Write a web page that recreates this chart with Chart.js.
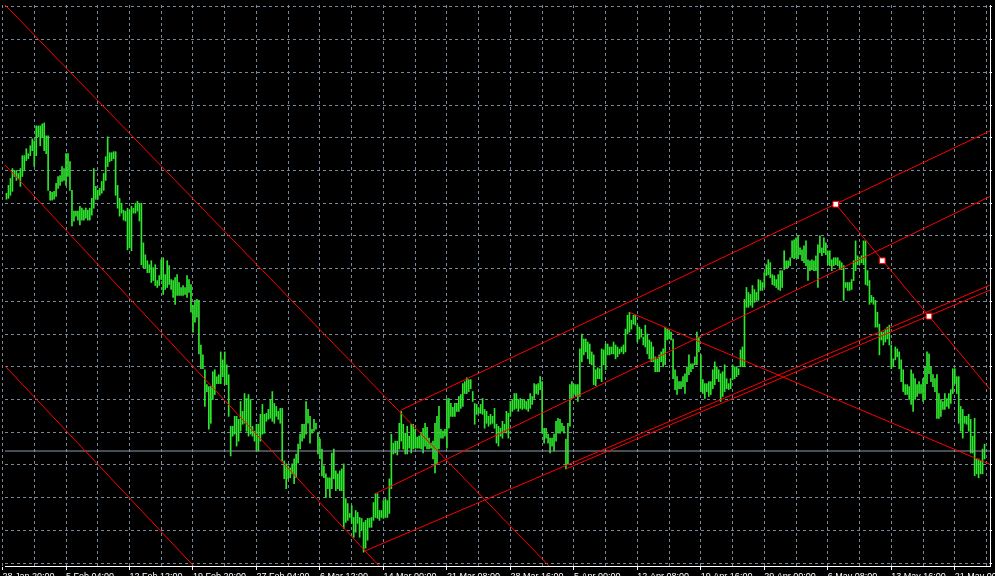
<!DOCTYPE html>
<html>
<head>
<meta charset="utf-8">
<script src="https://cdn.jsdelivr.net/npm/chart.js@4.4.1/dist/chart.umd.min.js"></script>
<style>
  html, body { margin: 0; padding: 0; background: #000; overflow: hidden; }
  canvas { display: block; }
</style>
</head>
<body>
<canvas id="chart" width="995" height="576"></canvas>
<script>
// H4 bars, high / low of each bar (index 0 = first bar at the left edge)
const barHigh = [
  3810,3818,3825,3835,3833,3833,3830,3835,3848,3848,3855,3850,3858,3865,3863,3878,3878,3878,3880,3881,
  3868,3868,3812,3811,3812,3820,3827,3828,3837,3835,3850,3850,3842,3813,3792,3792,3792,3797,3795,3793,
  3795,3793,3795,3805,3835,3817,3813,3815,3822,3830,3847,3867,3851,3851,3852,3852,3818,3805,3800,3793,
  3792,3795,3793,3797,3795,3800,3802,3800,3800,3760,3748,3742,3738,3742,3735,3738,3722,3727,3743,3745,
  3728,3742,3737,3723,3722,3725,3728,3720,3715,3717,3715,3727,3723,3718,3697,3702,3703,3702,3657,3647,
  3632,3617,3615,3615,3630,3632,3625,3627,3650,3642,3650,3637,3627,3575,3575,3585,3585,3582,3600,3590,
  3608,3603,3607,3602,3575,3570,3577,3577,3587,3597,3587,3588,3592,3602,3610,3598,3595,3590,3593,3593,
  3540,3537,3535,3533,3537,3542,3547,3557,3567,3577,3577,3600,3592,3585,3572,3582,3578,3568,3562,3552,
  3535,3527,3523,3523,3548,3552,3530,3527,3530,3532,3537,3502,3497,3487,3495,3483,3490,3488,3483,3482,
  3478,3480,3482,3482,3483,3498,3507,3507,3490,3490,3500,3502,3500,3522,3567,3558,3560,3560,3578,3590,
  3577,3568,3575,3565,3577,3577,3572,3564,3565,3568,3573,3578,3574,3563,3558,3560,3578,3585,3595,3572,
  3570,3572,3603,3603,3598,3594,3598,3598,3605,3607,3618,3620,3624,3622,3622,3610,3598,3597,3593,3597,
  3603,3592,3590,3585,3587,3585,3593,3577,3575,3573,3580,3577,3590,3588,3600,3602,3608,3608,3602,3603,
  3602,3602,3600,3602,3608,3605,3618,3617,3618,3625,3620,3573,3573,3567,3563,3563,3567,3580,3583,3582,
  3578,3575,3562,3578,3617,3620,3617,3617,3617,3653,3668,3663,3663,3660,3658,3650,3647,3632,3634,3633,
  3653,3652,3658,3658,3655,3655,3660,3657,3655,3653,3655,3657,3673,3687,3690,3682,3687,3687,3677,3675,
  3673,3665,3677,3668,3662,3660,3655,3645,3643,3647,3650,3653,3675,3673,3672,3670,3663,3632,3625,3620,
  3620,3625,3628,3635,3647,3638,3638,3645,3670,3665,3647,3622,3618,3618,3620,3620,3632,3640,3635,3632,
  3628,3630,3637,3623,3618,3623,3637,3635,3635,3633,3652,3655,3703,3715,3710,3708,3717,3713,3710,3723,
  3722,3720,3730,3738,3743,3740,3728,3727,3723,3728,3732,3732,3752,3742,3742,3745,3762,3763,3765,3767,
  3755,3753,3757,3762,3743,3742,3743,3742,3747,3758,3767,3755,3765,3760,3752,3752,3743,3745,3745,3745,
  3742,3740,3737,3720,3720,3720,3723,3742,3762,3747,3745,3747,3762,3762,3732,3722,3707,3705,3702,3690,
  3678,3670,3670,3673,3675,3677,3657,3643,3655,3653,3650,3642,3632,3617,3617,3615,3632,3628,3623,3617,
  3620,3617,3623,3635,3650,3648,3635,3627,3623,3627,3608,3602,3600,3608,3603,3608,3612,3633,3633,3625,
  3625,3595,3592,3585,3585,3587,3582,3565,3583,3542,3542,3540,3552,3557
];
const barLow = [
  3804,3805,3808,3812,3827,3823,3825,3817,3827,3833,3843,3845,3848,3853,3837,3848,3867,3858,3867,3853,
  3850,3813,3803,3803,3804,3807,3815,3818,3822,3823,3818,3827,3813,3777,3782,3787,3783,3778,3783,3783,
  3785,3783,3783,3788,3795,3804,3804,3808,3810,3813,3823,3837,3842,3843,3845,3808,3795,3787,3790,3783,
  3782,3753,3755,3752,3790,3790,3792,3782,3738,3735,3735,3730,3730,3720,3722,3717,3715,3717,3723,3708,
  3713,3715,3718,3713,3705,3698,3707,3707,3707,3707,3708,3705,3710,3690,3670,3680,3685,3648,3633,3633,
  3595,3610,3572,3578,3602,3607,3618,3618,3618,3625,3617,3617,3585,3545,3565,3567,3555,3560,3570,3577,
  3578,3570,3565,3567,3565,3560,3550,3550,3560,3567,3568,3580,3582,3583,3580,3578,3585,3582,3578,3540,
  3522,3512,3522,3523,3527,3517,3523,3538,3552,3560,3563,3567,3578,3558,3568,3570,3572,3547,3542,3525,
  3523,3503,3512,3503,3512,3522,3510,3512,3510,3510,3472,3478,3480,3483,3477,3463,3468,3477,3463,3470,
  3448,3452,3460,3473,3473,3480,3483,3482,3480,3483,3482,3483,3483,3487,3512,3547,3548,3546,3552,3560,
  3552,3547,3547,3553,3548,3552,3553,3553,3553,3552,3548,3555,3552,3552,3553,3542,3528,3537,3552,3563,
  3563,3565,3553,3573,3585,3585,3585,3590,3590,3593,3595,3608,3608,3610,3613,3600,3577,3587,3588,3588,
  3587,3573,3578,3575,3577,3578,3573,3558,3555,3565,3563,3570,3568,3563,3585,3590,3592,3593,3590,3593,
  3592,3593,3592,3590,3593,3597,3603,3608,3607,3612,3568,3558,3563,3558,3548,3555,3550,3560,3568,3568,
  3570,3568,3532,3537,3575,3603,3607,3605,3600,3605,3640,3647,3650,3643,3638,3637,3617,3616,3623,3623,
  3620,3637,3632,3647,3647,3648,3648,3643,3645,3648,3650,3648,3650,3668,3670,3673,3678,3677,3660,3663,
  3665,3657,3655,3648,3643,3640,3640,3630,3630,3630,3640,3635,3637,3662,3663,3662,3623,3612,3607,3613,
  3613,3615,3608,3620,3627,3630,3633,3637,3637,3650,3610,3608,3603,3610,3605,3607,3613,3617,3623,3620,
  3600,3605,3610,3613,3612,3613,3622,3623,3625,3627,3635,3635,3635,3695,3695,3697,3695,3700,3702,3702,
  3712,3712,3715,3727,3728,3725,3718,3717,3715,3713,3712,3715,3733,3735,3735,3737,3745,3744,3745,3744,
  3748,3742,3740,3737,3722,3732,3733,3732,3732,3715,3750,3747,3750,3748,3738,3737,3732,3737,3738,3737,
  3733,3733,3702,3715,3712,3712,3713,3722,3732,3738,3738,3740,3738,3718,3717,3698,3700,3698,3675,3675,
  3647,3662,3657,3660,3663,3657,3633,3635,3642,3645,3633,3620,3610,3607,3607,3602,3597,3590,3602,3605,
  3608,3608,3600,3602,3618,3628,3620,3615,3610,3583,3583,3585,3592,3592,3595,3593,3598,3608,3618,3608,
  3578,3570,3563,3578,3577,3570,3548,3548,3525,3527,3523,3527,3527,3542
];

// time axis labels (bar index -> text)
const tickBars = [-2, 30, 62, 94, 126, 158, 190, 222, 254, 286, 318, 350, 382, 414, 446, 478];
const tickLabels = ['28 Jan 20:00', '5 Feb 04:00', '12 Feb 12:00', '19 Feb 20:00', '27 Feb 04:00',
  '6 Mar 12:00', '14 Mar 00:00', '21 Mar 08:00', '28 Mar 16:00', '5 Apr 00:00', '12 Apr 08:00',
  '19 Apr 16:00', '29 Apr 00:00', '6 May 08:00', '13 May 16:00', '21 May 00:00'];

// price grid levels
const gridLevels = [3998, 3965, 3932, 3899, 3866, 3833, 3800, 3767, 3734, 3701, 3668, 3635, 3602, 3569, 3536, 3503, 3470, 3437];

// drawn objects: trend / channel lines [bar, price]
const lineFrom = [[-6, 3850], [-6, 4011], [-6, 3647], [198.5, 3591], [186, 3507], [180.5, 3449], [282, 3532], [418, 3799], [314, 3690]];
const lineTo   = [[200, 3408], [290, 3400], [100, 3422], [500, 3877], [500, 3811], [500, 3721], [500, 3716], [500, 3602], [500, 3533]];

// selected trend line handles
const markerBars = [418, 441.5, 465];
const markerPrices = [3799, 3742, 3686];

// current price line
const bidPrice = 3550;

const RED = '#ff0000';
const GRID = '#778899';

const datasets = [];

datasets.push({
  type: 'bar',
  data: barHigh.map((h, i) => ({ x: i, y: [barLow[i], h] })),
  backgroundColor: '#2ee62e',
  borderWidth: 0,
  barThickness: 1,
  grouped: false,
  order: 5
});

datasets.push({
  type: 'line',
  data: [{ x: -10, y: bidPrice }, { x: 510, y: bidPrice }],
  borderColor: '#8f9bab',
  borderWidth: 1,
  pointRadius: 0,
  order: 4
});

lineFrom.forEach((p, k) => {
  datasets.push({
    type: 'line',
    data: [{ x: p[0], y: p[1] }, { x: lineTo[k][0], y: lineTo[k][1] }],
    borderColor: RED,
    borderWidth: 1,
    pointRadius: 0,
    order: 2
  });
});

datasets.push({
  type: 'line',
  data: markerBars.map((b, k) => ({ x: b, y: markerPrices[k] })),
  showLine: false,
  pointStyle: 'rect',
  pointRadius: 4,
  pointBackgroundColor: '#ffffff',
  pointBorderColor: RED,
  pointBorderWidth: 1,
  order: 0
});

// keep the plot area at the window edges (labels may run off the canvas)
function noPadding(scale) {
  scale.paddingLeft = 0;
  scale.paddingRight = 0;
  scale.paddingTop = 0;
  scale.paddingBottom = 0;
}

new Chart(document.getElementById('chart'), {
  type: 'bar',
  data: { datasets: datasets },
  options: {
    responsive: false,
    animation: false,
    devicePixelRatio: 1,
    events: [],
    layout: { padding: 0 },
    plugins: { legend: { display: false }, tooltip: { enabled: false } },
    scales: {
      x: {
        type: 'linear',
        position: 'bottom',
        min: -0.75,
        max: 495.75,
        offset: false,
        afterBuildTicks: scale => {
          const t = [];
          for (let v = -2; v <= 494; v += 16) t.push({ value: v });
          scale.ticks = t;
        },
        afterFit: scale => { scale.height = 10; noPadding(scale); },
        ticks: {
          autoSkip: false,
          maxRotation: 0,
          align: 'start',
          padding: 1,
          color: '#ffffff',
          font: { family: 'Liberation Sans', size: 9 },
          callback: value => {
            const k = tickBars.indexOf(value);
            return k < 0 ? '' : tickLabels[k];
          }
        },
        grid: {
          offset: false,
          color: GRID,
          lineWidth: 1,
          tickLength: 4,
          tickColor: ctx => (ctx.tick && tickBars.includes(ctx.tick.value)) ? '#ffffff' : 'rgba(0,0,0,0)'
        },
        border: { display: true, color: '#ffffff', width: 1, dash: [3, 3] }
      },
      y: {
        type: 'linear',
        position: 'right',
        min: 3434,
        max: 4000,
        afterBuildTicks: scale => { scale.ticks = gridLevels.map(v => ({ value: v })); },
        afterFit: scale => { scale.width = 2; noPadding(scale); },
        ticks: { display: false },
        grid: { color: GRID, lineWidth: 1, tickLength: 2, tickColor: '#ffffff' },
        border: { display: true, color: '#ffffff', width: 1, dash: [3, 3] }
      }
    }
  }
});
</script>
</body>
</html>
